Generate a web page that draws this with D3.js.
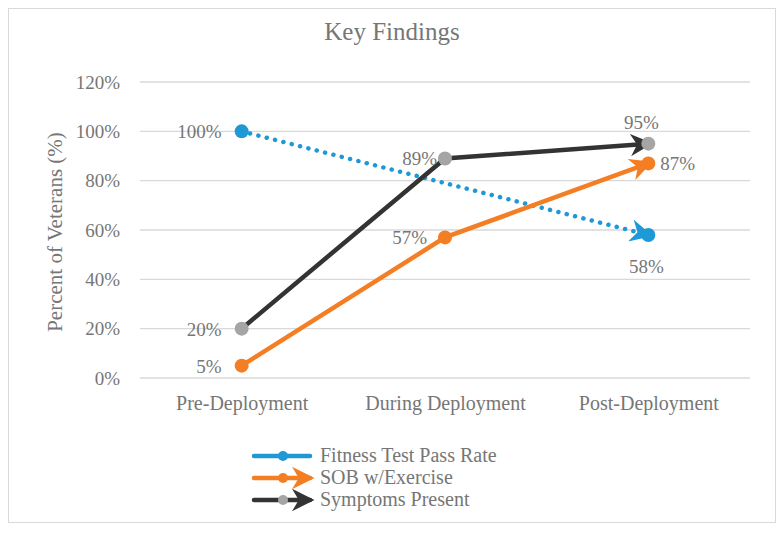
<!DOCTYPE html>
<html>
<head>
<meta charset="utf-8">
<script src="https://d3js.org/d3.v7.min.js"></script>
<style>
  body { margin: 0; background: #fff; }
  text { font-family: "Liberation Serif", "DejaVu Serif", serif; fill: #767676; }
</style>
</head>
<body>
<div id="chart"></div>
<script>
const categories = ['Pre-Deployment', 'During Deployment', 'Post-Deployment'];
const seriesNames = ['Fitness Test Pass Rate', 'SOB w/Exercise', 'Symptoms Present'];
const fitnessValues = [100, null, 58];
const sobValues = [5, 57, 87];
const symptomValues = [20, 89, 95];
const yTicks = [0, 20, 40, 60, 80, 100, 120];

const width = 784, height = 533;
const svg = d3.select('#chart').append('svg')
    .attr('width', width)
    .attr('height', height);

// outer frame
svg.append('rect')
    .attr('x', 8.5).attr('y', 8.5)
    .attr('width', 767).attr('height', 514)
    .attr('fill', '#fff')
    .attr('stroke', '#d9d9d9');

const x = d3.scalePoint()
    .domain(categories)
    .range([140, 750])
    .padding(0.5);

const y = d3.scaleLinear()
    .domain([0, 120])
    .range([378, 82]);

// gridlines
svg.append('g')
    .selectAll('line')
    .data(yTicks)
    .enter()
    .append('line')
    .attr('x1', 140).attr('x2', 750)
    .attr('y1', d => y(d)).attr('y2', d => y(d))
    .attr('stroke', '#d9d9d9')
    .attr('stroke-width', 1.3);

// y axis labels
const yAxis = svg.append('g')
    .attr('transform', 'translate(140,0)')
    .call(d3.axisLeft(y).tickValues(yTicks).tickFormat(d => d + '%').tickSize(0).tickPadding(20));
yAxis.select('.domain').remove();
yAxis.selectAll('text')
    .style('font-size', '19px')
    .style('font-family', '"Liberation Serif", serif')
    .attr('fill', '#767676');

// x axis labels
const xAxis = svg.append('g')
    .attr('transform', 'translate(0,378)')
    .call(d3.axisBottom(x).tickSize(0).tickPadding(18));
xAxis.select('.domain').remove();
xAxis.selectAll('text')
    .style('font-size', '20px')
    .style('font-family', '"Liberation Serif", serif')
    .attr('fill', '#767676');

// title
svg.append('text')
    .attr('x', 392).attr('y', 40)
    .attr('text-anchor', 'middle')
    .style('font-size', '25px')
    .text('Key Findings');

// y axis title
svg.append('text')
    .attr('transform', 'translate(62,232) rotate(-90)')
    .attr('text-anchor', 'middle')
    .style('font-size', '21px')
    .text('Percent of Veterans (%)');

const defs = svg.append('defs');
function addArrow(id, color) {
    defs.append('marker')
        .attr('id', id)
        .attr('viewBox', '0 0 10 10')
        .attr('refX', 8).attr('refY', 5)
        .attr('markerWidth', 5).attr('markerHeight', 5)
        .attr('markerUnits', 'strokeWidth')
        .attr('orient', 'auto')
        .append('path')
        .attr('d', 'M0,0 L10,5 L0,10 L3,5 Z')
        .attr('fill', color);
}

const series = [
    { name: seriesNames[0], values: fitnessValues, line: '#1f98d6', marker: '#1f98d6', dash: '0.1 8.5' },
    { name: seriesNames[1], values: sobValues, line: '#f47e24', marker: '#f47e24', dash: null },
    { name: seriesNames[2], values: symptomValues, line: '#333333', marker: '#a5a5a5', dash: null }
];
series.forEach((s, i) => addArrow('arrow' + i, s.line));

const line = d3.line()
    .x(d => x(d.c))
    .y(d => y(d.v));

series.forEach((s, i) => {
    const pts = categories.map((c, j) => ({ c: c, v: s.values[j] })).filter(d => d.v !== null);
    svg.append('path')
        .datum(pts)
        .attr('d', line)
        .attr('fill', 'none')
        .attr('stroke', s.line)
        .attr('stroke-width', 4.5)
        .attr('stroke-linecap', 'round')
        .attr('stroke-dasharray', s.dash)
        .attr('marker-end', 'url(#arrow' + i + ')');
});

series.forEach(s => {
    const pts = categories.map((c, j) => ({ c: c, v: s.values[j] })).filter(d => d.v !== null);
    svg.append('g')
        .selectAll('circle')
        .data(pts)
        .enter()
        .append('circle')
        .attr('cx', d => x(d.c))
        .attr('cy', d => y(d.v))
        .attr('r', 7)
        .attr('fill', s.marker);
});

// data labels
const labels = [
    { s: 0, i: 0, dx: -20, dy: 7, anchor: 'end' },
    { s: 0, i: 2, dx: -2, dy: 38, anchor: 'middle' },
    { s: 1, i: 0, dx: -20, dy: 7, anchor: 'end' },
    { s: 1, i: 1, dx: -18, dy: 7, anchor: 'end' },
    { s: 1, i: 2, dx: 12, dy: 7, anchor: 'start' },
    { s: 2, i: 0, dx: -20, dy: 7, anchor: 'end' },
    { s: 2, i: 1, dx: -8, dy: 7, anchor: 'end' },
    { s: 2, i: 2, dx: -7, dy: -15, anchor: 'middle' }
];
const allValues = [fitnessValues, sobValues, symptomValues];
svg.append('g')
    .selectAll('text')
    .data(labels)
    .enter()
    .append('text')
    .attr('x', d => x(categories[d.i]) + d.dx)
    .attr('y', d => y(allValues[d.s][d.i]) + d.dy)
    .attr('text-anchor', d => d.anchor)
    .style('font-size', '19px')
    .text(d => allValues[d.s][d.i] + '%');

// legend
const legend = svg.append('g');
series.forEach((s, i) => {
    const ly = 456 + i * 22;
    legend.append('line')
        .attr('x1', 254).attr('x2', 310)
        .attr('y1', ly).attr('y2', ly)
        .attr('stroke', s.line)
        .attr('stroke-width', 4.5)
        .attr('stroke-linecap', 'round')
        .attr('marker-end', i > 0 ? 'url(#arrow' + i + ')' : null);
    legend.append('circle')
        .attr('cx', 283).attr('cy', ly)
        .attr('r', 5)
        .attr('fill', s.marker);
    legend.append('text')
        .attr('x', 320).attr('y', ly + 6)
        .style('font-size', '20px')
        .text(s.name);
});
</script>
</body>
</html>
